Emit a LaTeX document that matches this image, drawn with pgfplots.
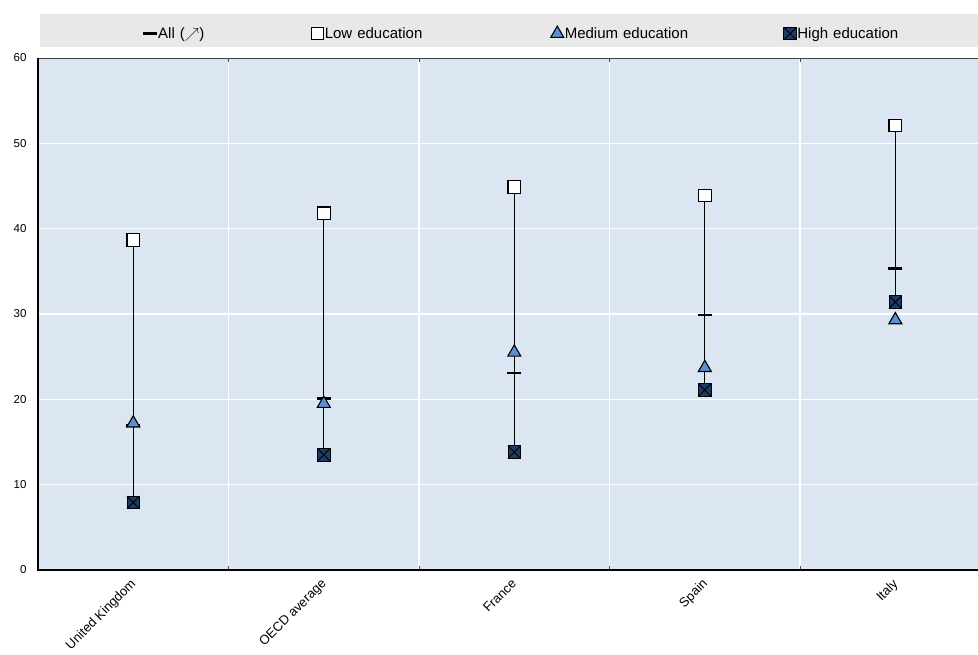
\documentclass[border=0pt]{standalone}
\usepackage{fontspec}
\setmainfont{Liberation Sans}
\usepackage{pgfplots}
\pgfplotsset{compat=1.18}
\definecolor{bgblue}{HTML}{DCE6F2}
\definecolor{legbg}{HTML}{E8E8E8}
\definecolor{medblue}{HTML}{5B8FCF}
\definecolor{navy}{HTML}{1F3B62}
\pgfdeclareplotmark{sqx}{%
  \pgfpathrectangle{\pgfpoint{-\pgfplotmarksize}{-\pgfplotmarksize}}{\pgfpoint{2\pgfplotmarksize}{2\pgfplotmarksize}}%
  \pgfusepathqfillstroke
  \pgfpathmoveto{\pgfpoint{-\pgfplotmarksize}{-\pgfplotmarksize}}%
  \pgfpathlineto{\pgfpoint{\pgfplotmarksize}{\pgfplotmarksize}}%
  \pgfpathmoveto{\pgfpoint{-\pgfplotmarksize}{\pgfplotmarksize}}%
  \pgfpathlineto{\pgfpoint{\pgfplotmarksize}{-\pgfplotmarksize}}%
  \pgfusepathqstroke}
\begin{document}
\begin{tikzpicture}
\useasboundingbox (-38pt,-84pt) rectangle (940pt,570pt);
\fill[legbg] (2pt,523pt) rectangle (945pt,556pt);
\begin{axis}[
  at={(0pt,0pt)}, anchor=south west,
  scale only axis, width=940pt, height=512pt,
  xmin=-0.5, xmax=4.434, ymin=0, ymax=60,
  axis background/.style={fill=bgblue},
  xtick={0,1,2,3,4},
  xticklabels={United Kingdom,OECD average,France,Spain,Italy},
  x tick label style={rotate=45, anchor=north east, font=\fontsize{13}{15}\selectfont, inner sep=1pt, xshift=-7pt, yshift=-2pt},
  major x tick style={draw=none},
  minor xtick={0.5,1.5,2.5,3.5},
  minor x tick style={draw=black!70, line width=0.8pt},
  minor tick length=4pt,
  xminorgrids=true,
  minor x grid style={white, line width=1.2pt},
  ytick={0,10,...,60},
  ymajorgrids=true,
  major y grid style={white, line width=1.2pt},
  y tick label style={font=\fontsize{11.5}{13}\selectfont},
  major y tick style={draw=none},
  yticklabel style={xshift=-8pt},
  tick align=inside,
  axis line style={draw=none},
  /pgf/number format/assume math mode=true,
  clip=false,
  unbounded coords=jump,
  legend columns=4,
  legend style={at={(rel axis cs:0,1)}, anchor=south west, xshift=105pt, yshift=16pt, draw=none, fill=none,
    font=\fontsize{15}{17}\selectfont, inner sep=0pt,
    /tikz/every even column/.append style={column sep=0pt},
    nodes={anchor=west, inner xsep=1pt}},
  legend cell align=left,
]
% frame
\draw[black!75, line width=0.8pt] (rel axis cs:0,1) -- (rel axis cs:1.05,1);
\draw[black, line width=1.4pt] (rel axis cs:0,1) -- (rel axis cs:0,0) -- (rel axis cs:1.05,0);
% range lines
\addplot[black, line width=0.9pt, forget plot] coordinates {
 (0,7.9) (0,38.7) (0,nan)
 (1,13.5) (1,41.8) (1,nan)
 (2,13.8) (2,44.9) (2,nan)
 (3,21.1) (3,43.9) (3,nan)
 (4,31.4) (4,52.1)
};
\addplot[only marks, mark=-, mark size=7pt, mark options={line width=2.6pt, black}] coordinates {
 (0,16.9) (1,20.1) (2,23.1) (3,29.9) (4,35.3)};
\addlegendentry[text width=152pt]{All ($\nearrow$)}
\addplot[only marks, mark=square*, mark size=6.3pt, mark options={fill=white, draw=black, line width=1.1pt}] coordinates {
 (0,38.7) (1,41.8) (2,44.9) (3,43.9) (4,52.1)};
\addlegendentry[text width=225pt]{Low education}
\addplot[only marks, mark=triangle*, mark size=7.5pt, mark options={fill=medblue, draw=black, line width=1.1pt}] coordinates {
 (0,17.2) (1,19.5) (2,25.5) (3,23.7) (4,29.3)};
\addlegendentry[text width=218pt]{Medium education}
\addplot[only marks, mark=sqx, mark size=6.3pt, mark options={fill=navy, draw=black, line width=0.9pt}] coordinates {
 (0,7.9) (1,13.5) (2,13.8) (3,21.1) (4,31.4)};
\addlegendentry[text width=140pt]{High education}
\end{axis}
\end{tikzpicture}
\end{document}
